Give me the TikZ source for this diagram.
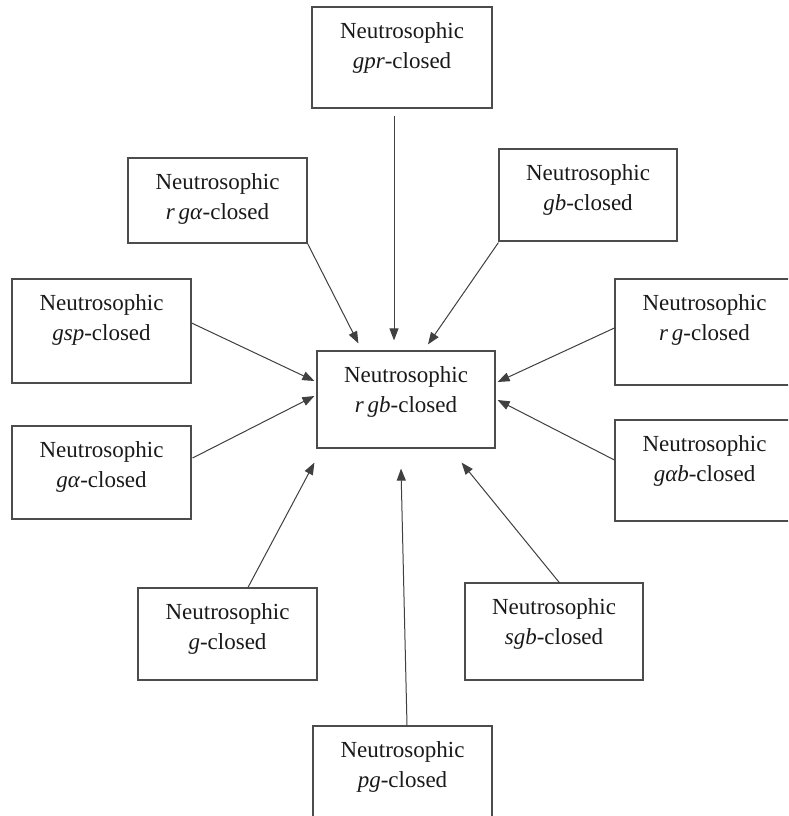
\documentclass[tikz,border=0pt]{standalone}
\usepackage{fontspec}
\setmainfont{Liberation Serif}
\usetikzlibrary{arrows.meta}
\tikzset{
  box/.style={draw=black!70, line width=1.2pt, rectangle, inner sep=0pt},
  lbl/.style={anchor=north, inner sep=0pt, yshift=-16pt, align=center, text=black!90,
    font=\fontsize{23}{30}\selectfont},
  arr/.style={draw=black!75, line width=1pt, -{Triangle[length=12pt,width=9pt]}}
}
\newcommand{\nbox}[6]{%
  \node[box, minimum width={#4-#2}, minimum height={#5-#3}] (#1) at ({(#2+#4)/2},{(#3+#5)/2}) {};
  \node[lbl] (#1t) at (#1.north) {Neutrosophic\\#6};}
\begin{document}
\begin{tikzpicture}[x=1pt, y=-1pt]
\clip (0,0) rectangle (788,816);
\fill[white] (0,0) rectangle (788,816);
\nbox{gpr}{312}{7}{492}{108}{\textit{gpr}-closed}
\nbox{rga}{128}{158}{307}{243}{\textit{r\,gα}-closed}
\nbox{gb}{499}{149}{677}{241}{\textit{gb}-closed}
\nbox{gsp}{12}{279}{191}{383}{\textit{gsp}-closed}
\nbox{rg}{615}{279}{794}{385}{\textit{r\,g}-closed}
\nbox{c}{317}{351}{495}{448}{\textit{r\,gb}-closed}
\nbox{ga}{12}{426}{191}{519}{\textit{gα}-closed}
\nbox{gab}{615}{420}{794}{521}{\textit{gαb}-closed}
\nbox{g}{138}{588}{317}{680}{\textit{g}-closed}
\nbox{sgb}{465}{583}{643}{680}{\textit{sgb}-closed}
\nbox{pg}{313}{726}{492}{830}{\textit{pg}-closed}
\draw[arr] ([shift={(-8,7)}]gpr.south) -- ([shift={(-12,-10)}]c.north);
\draw[arr] (rga.south east) -- ([shift={(42,-7)}]c.north west);
\draw[arr] ([shift={(0,1)}]gb.south west) -- ([shift={(22,-6)}]c.north);
\draw[arr] ([shift={(0,-8)}]gsp.east) -- ([shift={(-2,-18.5)}]c.west);
\draw[arr] ([shift={(0,-4)}]rg.west) -- ([shift={(2,-17.5)}]c.east);
\draw[arr] ([shift={(1,-14.5)}]ga.east) -- ([shift={(-2,-3.5)}]c.west);
\draw[arr] ([shift={(0,-10.5)}]gab.west) -- ([shift={(2,0.5)}]c.east);
\draw[arr] ([shift={(20.5,0)}]g.north) -- ([shift={(-2,14)}]c.south west);
\draw[arr] ([shift={(6,1)}]sgb.north) -- ([shift={(-34,14)}]c.south east);
\draw[arr] ([shift={(4.5,0)}]pg.north) -- ([shift={(-5,20)}]c.south);
\end{tikzpicture}
\end{document}
